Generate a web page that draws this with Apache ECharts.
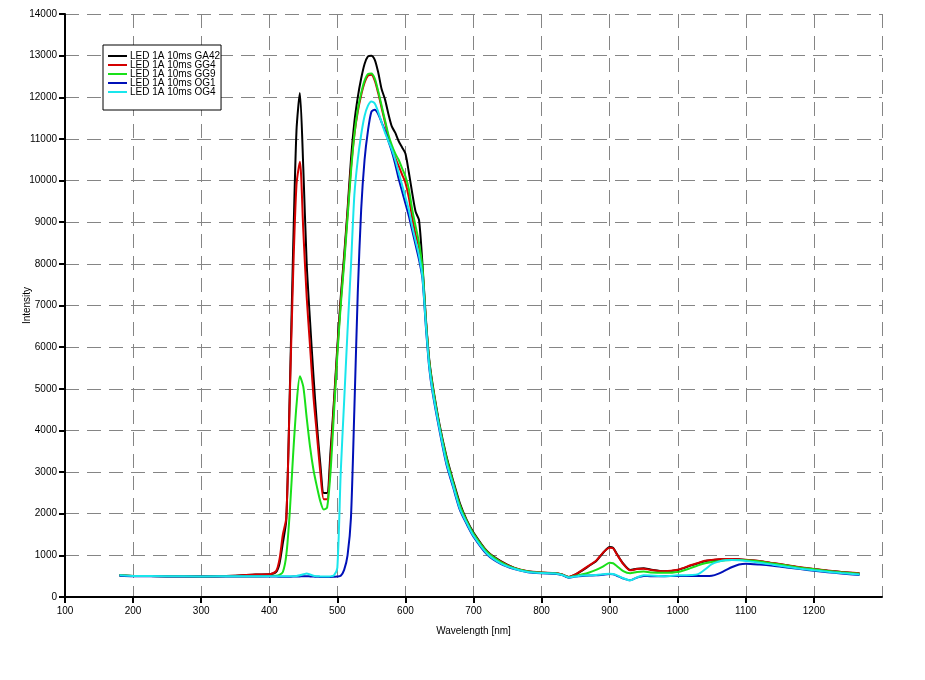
<!DOCTYPE html>
<html>
<head>
<meta charset="utf-8">
<script src="https://cdn.jsdelivr.net/npm/echarts@6/dist/echarts.min.js"></script>
<style>
html,body{margin:0;padding:0;background:#fff;}
#chart{width:925px;height:680px;}
</style>
</head>
<body>
<div id="chart"></div>
<script>
// Wavelength grid (nm)
const wavelengths = [180,200,250,300,350,380,400,
  410,415,420,425,430,435,440,445,450,455,460,465,470,475,480,485,490,495,500,505,510,515,520,525,530,535,540,545,550,555,560,565,570,575,580,585,590,595,600,605,610,615,620,625,630,635,640,
  650,660,670,680,690,700,
  720,740,760,780,800,820,
  830,840,850,860,870,880,890,900,
  905,910,920,930,940,950,960,
  980,1000,1020,1030,1040,1050,1060,1070,1080,1090,1100,
  1120,1140,1160,1180,1200,1220,1240,1267];

const seriesNames = ["LED 1A 10ms GA42","LED 1A 10ms GG4","LED 1A 10ms GG9","LED 1A 10ms OG1","LED 1A 10ms OG4"];

const valuesGA42 = [520,505,500,495,510,540,545,
  600,800,1300,1850,4800,8300,11200,12100,10300,8000,6600,5300,4150,3200,2500,2500,3500,4700,6000,7200,8200,9300,10500,11400,12000,12450,12800,12980,13000,12900,12600,12200,11950,11600,11300,11150,10950,10800,10650,10200,9700,9250,9050,8000,6700,5700,5100,
  4150,3400,2800,2250,1850,1550,
  1100,860,700,610,580,570,
  540,480,540,640,750,860,1050,1200,
  1180,1050,800,650,680,690,660,
  620,650,760,810,860,880,900,910,915,905,890,
  860,810,760,710,670,630,600,565];

const valuesGG4 = [520,505,500,495,510,540,545,
  620,900,1500,1900,4700,7700,9900,10450,8800,7200,6000,4800,3900,3000,2350,2350,3300,4600,5900,7100,8100,9200,10300,11100,11650,12050,12350,12520,12540,12400,12100,11750,11400,11050,10750,10550,10350,10150,9950,9600,9100,8700,8400,7800,6650,5650,5050,
  4100,3350,2750,2200,1820,1520,
  1090,850,700,620,590,575,
  540,480,545,650,760,870,1060,1180,
  1170,1040,790,640,670,680,650,
  620,655,770,820,870,890,905,915,915,905,895,
  865,815,765,715,675,635,600,570];

const valuesGG9 = [520,505,500,495,500,500,505,
  510,530,600,1000,2000,3400,4600,5300,5050,4300,3600,3050,2650,2300,2100,2150,3000,4400,5800,7000,8000,9100,10200,11100,11700,12100,12400,12560,12570,12450,12150,11800,11450,11100,10850,10650,10500,10300,10100,9800,9300,8900,8500,7900,6650,5650,5050,
  4100,3350,2750,2200,1820,1520,
  1080,840,690,610,580,570,
  535,475,510,545,590,650,730,820,
  810,750,620,570,600,610,590,
  580,600,700,760,810,840,860,880,890,890,880,
  855,805,755,705,665,625,595,560];

const valuesOG1 = [510,500,495,490,495,495,490,
  490,488,485,485,487,490,490,495,500,500,495,490,485,482,480,480,480,485,490,510,650,1000,1900,4500,7300,9300,10500,11200,11650,11700,11600,11400,11200,10950,10700,10400,10050,9750,9450,9150,8800,8450,8100,7650,6500,5500,4900,
  4000,3200,2640,2090,1750,1450,
  1020,795,670,595,570,560,
  525,465,490,505,515,520,535,550,
  545,515,445,400,465,505,500,
  500,505,505,505,505,510,560,640,720,780,800,
  780,750,710,670,630,595,565,530];

const valuesOG4 = [520,505,500,495,500,500,500,
  500,500,500,500,500,500,505,520,545,565,540,510,500,495,490,490,495,520,700,3000,4700,6400,7950,9650,10500,11100,11550,11800,11900,11850,11650,11400,11150,10950,10750,10500,10200,9900,9600,9300,8900,8550,8200,7700,6550,5550,4950,
  4050,3250,2680,2120,1780,1470,
  1040,810,680,600,575,565,
  530,470,495,515,520,530,545,560,
  550,525,450,400,470,520,515,
  500,520,530,550,660,790,850,880,890,880,865,
  825,775,725,680,640,605,575,540];

const seriesValues = [valuesGA42, valuesGG4, valuesGG9, valuesOG1, valuesOG4];
const seriesColors = ["#000000","#d40000","#19e019","#0010b8","#19e6ec"];

const xTicks = {min:100, max:1300, interval:100};
const yTicks = {min:0, max:14000, interval:1000};

const chart = echarts.init(document.getElementById('chart'), null, {renderer:'canvas'});
const font = "'Liberation Sans', Arial, sans-serif";
const gridLine = {show:true, lineStyle:{color:'#858585', width:1, type:[14,8]}};
const plain = v => String(v);

chart.setOption({
  animation:false,
  backgroundColor:'#ffffff',
  textStyle:{fontFamily:font},
  grid:{left:65, right:43, top:14, bottom:83, containLabel:false},
  legend:{
    orient:'vertical', left:103, top:45,
    data:seriesNames,
    icon:'rect', itemWidth:19, itemHeight:2, itemGap:-1,
    padding:[6,1,13,5],
    backgroundColor:'#ffffff', borderColor:'#000000', borderWidth:1,
    textStyle:{fontFamily:font, fontSize:10, color:'#000', lineHeight:9, padding:[0,0,0,-2]}
  },
  xAxis:{
    type:'value', min:xTicks.min, max:xTicks.max, interval:xTicks.interval,
    name:'Wavelength [nm]', nameLocation:'middle', nameGap:29, nameMoveOverlap:false,
    nameTextStyle:{fontFamily:font, fontSize:10, color:'#000'},
    axisLine:{show:true, onZero:false, lineStyle:{color:'#000', width:2}},
    axisTick:{show:true, length:6, lineStyle:{color:'#000', width:2}},
    axisLabel:{fontFamily:font, fontSize:10, color:'#000', margin:9, showMaxLabel:false, formatter:plain},
    splitLine:gridLine
  },
  yAxis:{
    type:'value', min:yTicks.min, max:yTicks.max, interval:yTicks.interval,
    name:'Intensity', nameLocation:'middle', nameGap:33, nameRotate:90, nameMoveOverlap:false,
    nameTextStyle:{fontFamily:font, fontSize:10, color:'#000'},
    axisLine:{show:true, onZero:false, lineStyle:{color:'#000', width:2}},
    axisTick:{show:true, length:6, lineStyle:{color:'#000', width:2}},
    axisLabel:{fontFamily:font, fontSize:10, color:'#000', margin:8, formatter:plain},
    splitLine:gridLine
  },
  series: seriesNames.map((name, i) => ({
    name: name,
    type:'line',
    data: wavelengths.map((w, j) => [w, seriesValues[i][j]]),
    showSymbol:false,
    smooth:0.25,
    color: seriesColors[i],
    lineStyle:{width:2, color:seriesColors[i]},
    emphasis:{disabled:true},
    z: 2 + i
  }))
});
</script>
</body>
</html>
